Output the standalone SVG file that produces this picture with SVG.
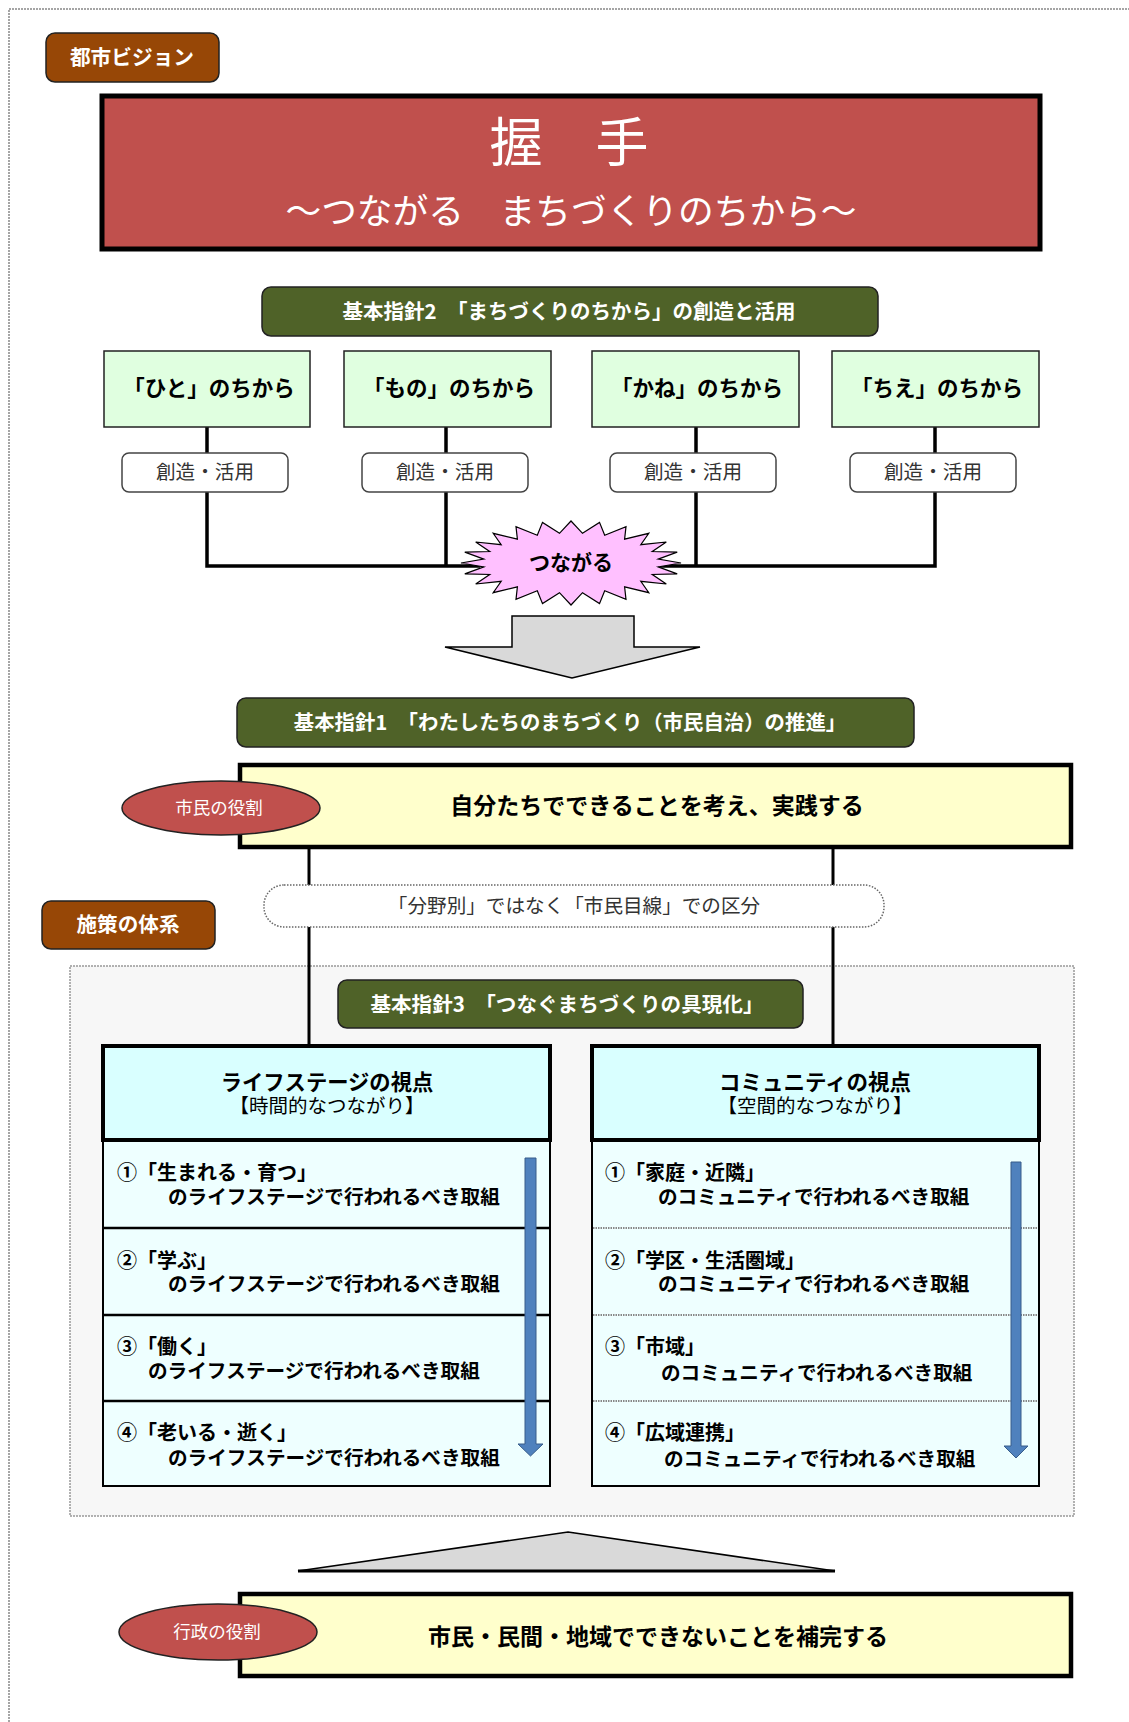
<svg xmlns="http://www.w3.org/2000/svg" width="1129" height="1722" viewBox="0 0 1129 1722">
<defs>
<style>
text{font-family:"Noto Sans CJK JP","Noto Sans CJK SC",sans-serif;text-anchor:middle}
.b{font-weight:bold}
.w{fill:#fff}
.tag{fill:#974706;stroke:#222;stroke-width:1.5}
.gh{fill:#4F6228;stroke:#222;stroke-width:1.5}
.gb{fill:#E0FFE0;stroke:#222;stroke-width:1.5}
.cz{fill:#fff;stroke:#444;stroke-width:1.5}
.yb{fill:#FFFFCC;stroke:#000;stroke-width:4.5}
.el{fill:#C0504D;stroke:#222;stroke-width:1.5}
.ch{fill:#D9FFFF;stroke:#000;stroke-width:4}
.rw{fill:#EEFFFF;stroke:#000;stroke-width:2}
.ln{stroke:#000;stroke-width:3.5;fill:none}
.ba{fill:#4F81BD;stroke:#385D8A;stroke-width:1}
.gray{fill:#D9D9D9;stroke:#000;stroke-width:1.5}
.r1{text-anchor:start;font-size:20px;font-weight:bold;fill:#000}
.rt{text-anchor:start;font-size:19.6px;font-weight:bold;fill:#000}
</style>
</defs>
<path d="M9,1722 V9 H1129" fill="none" stroke="#888" stroke-width="1.5" stroke-dasharray="2,1"/>

<g id="container">
<rect x="70" y="966" width="1004" height="550" fill="#F7F7F7" stroke="#999" stroke-width="1.5" stroke-dasharray="2,1"/>
</g>

<g id="connectors">
<path class="ln" d="M207,427 V453 M446,427 V453 M696,427 V453 M935,427 V453"/>
<path class="ln" d="M207,492 V566 H480 M446,492 V566 M696,492 V566 M660,566 H935 V492"/>
<path class="ln" style="stroke-width:3" d="M309,847 V1046 M833,847 V1046"/>
</g>

<g id="toshi-vision">
<rect class="tag" x="46" y="33" width="173" height="49" rx="9"/>
<text class="b w" x="132" y="65" font-size="20.7">都市ビジョン</text>
</g>

<g id="title">
<rect x="102" y="96" width="938" height="153" fill="#C0504D" stroke="#000" stroke-width="5"/>
<text class="w" x="569" y="162" font-size="53">握　手</text>
<text class="w" x="571" y="224" font-size="35.7">～つながる　まちづくりのちから～</text>
</g>

<g id="shishin2">
<rect class="gh" x="262" y="287" width="616" height="49" rx="9"/>
<text class="b w" x="569" y="319" font-size="20.5">基本指針2　「まちづくりのちから」の創造と活用</text>
</g>

<g id="hito">
<rect class="gb" x="104" y="351" width="206" height="76"/>
<text class="b" x="209" y="396" font-size="21.5">「ひと」のちから</text>
</g>
<g id="mono">
<rect class="gb" x="344" y="351" width="207" height="76"/>
<text class="b" x="449" y="396" font-size="21.5">「もの」のちから</text>
</g>
<g id="kane">
<rect class="gb" x="592" y="351" width="207" height="76"/>
<text class="b" x="697" y="396" font-size="21.5">「かね」のちから</text>
</g>
<g id="chie">
<rect class="gb" x="832" y="351" width="207" height="76"/>
<text class="b" x="937" y="396" font-size="21.5">「ちえ」のちから</text>
</g>

<g id="souzou1">
<rect class="cz" x="122" y="453" width="166" height="39" rx="7"/>
<text x="205" y="479" font-size="19.6" fill="#333">創造・活用</text>
</g>
<g id="souzou2">
<rect class="cz" x="362" y="453" width="166" height="39" rx="7"/>
<text x="445" y="479" font-size="19.6" fill="#333">創造・活用</text>
</g>
<g id="souzou3">
<rect class="cz" x="610" y="453" width="166" height="39" rx="7"/>
<text x="693" y="479" font-size="19.6" fill="#333">創造・活用</text>
</g>
<g id="souzou4">
<rect class="cz" x="850" y="453" width="166" height="39" rx="7"/>
<text x="933" y="479" font-size="19.6" fill="#333">創造・活用</text>
</g>

<g id="tsunagaru">
<polygon fill="#FFC0FF" stroke="#000" stroke-width="1.2" points="681,563 658.2,566.9 677.2,573.9 652.3,574.5 666.3,584 640.8,581.3 648.8,592.7 624.6,586.8 626,599.4 604.7,590.7 599.5,603.6 582.5,592.7 571,605 559.5,592.7 542.5,603.6 537.3,590.7 516,599.4 517.4,586.8 493.2,592.7 501.2,581.3 475.7,584 489.7,574.5 464.8,573.9 483.8,566.9 461,563 483.8,559.1 464.8,552.1 489.7,551.5 475.7,542 501.2,544.7 493.2,533.3 517.4,539.2 516,526.6 537.3,535.3 542.5,522.4 559.5,533.3 571,521 582.5,533.3 599.5,522.4 604.7,535.3 626,526.6 624.6,539.2 648.8,533.3 640.8,544.7 666.3,542 652.3,551.5 677.2,552.1 658.2,559.1"/>
<text class="b" x="571" y="570" font-size="21">つながる</text>
</g>

<g id="down-arrow">
<path class="gray" d="M512,616 H634 V647 H700 L572,678 L445,647 H512 Z"/>
</g>

<g id="shishin1">
<rect class="gh" x="237" y="698" width="677" height="49" rx="9"/>
<text class="b w" x="570" y="730" font-size="20.4">基本指針1　「わたしたちのまちづくり（市民自治）の推進」</text>
</g>

<g id="shimin-box">
<rect class="yb" x="240" y="765" width="831" height="82"/>
<text class="b" x="657" y="814" font-size="23">自分たちでできることを考え、実践する</text>
</g>
<g id="shimin-role">
<ellipse class="el" cx="221" cy="808" rx="99" ry="27"/>
<text class="w" x="219" y="814" font-size="17.5">市民の役割</text>
</g>

<g id="kubun">
<rect x="264" y="885" width="620" height="42" rx="20" fill="#fff" stroke="#666" stroke-width="1.5" stroke-dasharray="1.5,1.5"/>
<text x="574" y="913" font-size="19.6" fill="#333">「分野別」ではなく「市民目線」での区分</text>
</g>

<g id="shisaku">
<rect class="tag" x="42" y="901" width="173" height="48" rx="9"/>
<text class="b w" x="128" y="932" font-size="20.6">施策の体系</text>
</g>

<g id="shishin3">
<rect class="gh" x="338" y="980" width="465" height="48" rx="9"/>
<text class="b w" x="567" y="1012" font-size="20.6">基本指針3　「つなぐまちづくりの具現化」</text>
</g>

<g id="lifestage">
<rect class="rw" x="103" y="1140" width="447" height="346"/>
<path d="M103,1228 H550 M103,1315 H550 M103,1401 H550" stroke="#000" stroke-width="2.5"/>
<rect class="ch" x="103" y="1046" width="447" height="94"/>
<text class="b" x="327" y="1090" font-size="21.3">ライフステージの視点</text>
<text x="327" y="1113" font-size="19.5">【時間的なつながり】</text>
<text class="r1" x="117" y="1180">①「生まれる・育つ」</text>
<text class="rt" x="168" y="1204">のライフステージで行われるべき取組</text>
<text class="r1" x="117" y="1268">②「学ぶ」</text>
<text class="rt" x="168" y="1291">のライフステージで行われるべき取組</text>
<text class="r1" x="117" y="1354">③「働く」</text>
<text class="rt" x="148" y="1378">のライフステージで行われるべき取組</text>
<text class="r1" x="117" y="1440">④「老いる・逝く」</text>
<text class="rt" x="168" y="1465">のライフステージで行われるべき取組</text>
<path class="ba" d="M525,1158 H536 V1444 H543 L530.5,1456 L518,1444 H525 Z"/>
</g>

<g id="community">
<rect class="rw" x="592" y="1140" width="447" height="346"/>
<path d="M593,1228 H1038 M593,1315 H1038 M593,1401 H1038" stroke="#888" stroke-width="2" stroke-dasharray="1.5,1"/>
<rect class="ch" x="592" y="1046" width="447" height="94"/>
<text class="b" x="815" y="1090" font-size="21.5">コミュニティの視点</text>
<text x="815" y="1113" font-size="19.5">【空間的なつながり】</text>
<text class="r1" x="605" y="1180">①「家庭・近隣」</text>
<text class="rt" x="658" y="1204">のコミュニティで行われるべき取組</text>
<text class="r1" x="605" y="1268">②「学区・生活圏域」</text>
<text class="rt" x="658" y="1291">のコミュニティで行われるべき取組</text>
<text class="r1" x="605" y="1354">③「市域」</text>
<text class="rt" x="661" y="1380">のコミュニティで行われるべき取組</text>
<text class="r1" x="605" y="1440">④「広域連携」</text>
<text class="rt" x="664" y="1466">のコミュニティで行われるべき取組</text>
<path class="ba" d="M1011,1162 H1021 V1446 H1028 L1016,1458 L1004,1446 H1011 Z"/>
</g>

<g id="up-triangle">
<path class="gray" d="M568,1532 L835,1571 H298 Z"/>
<path d="M298,1571 H835" stroke="#000" stroke-width="3"/>
</g>

<g id="gyousei-box">
<rect class="yb" x="240" y="1594" width="831" height="82"/>
<text class="b" x="658" y="1645" font-size="23">市民・民間・地域でできないことを補完する</text>
</g>
<g id="gyousei-role">
<ellipse class="el" cx="218" cy="1632" rx="99" ry="28"/>
<text class="w" x="217" y="1638" font-size="17.5">行政の役割</text>
</g>
</svg>
